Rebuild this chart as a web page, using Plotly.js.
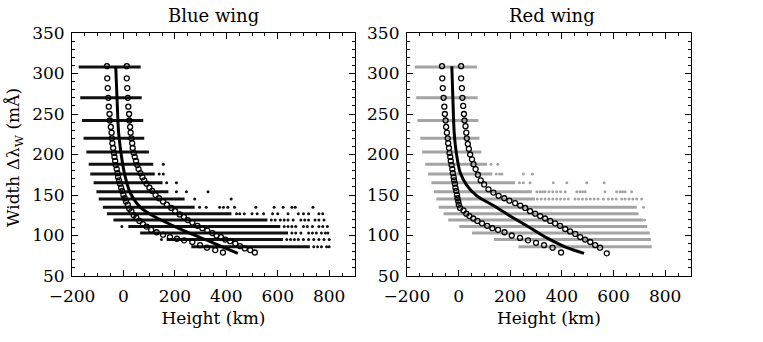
<!DOCTYPE html>
<html>
<head>
<meta charset="utf-8">
<script src="https://cdn.plot.ly/plotly-3.0.1.min.js"></script>
<style>
  html, body { margin: 0; padding: 0; background: #fff; }
  #plot { width: 763px; height: 342px; }
</style>
</head>
<body>
<div id="plot"></div>
<script>
// widths of the rows of points (mA)
var rowWidths = [308, 270, 242, 220, 203, 188, 176, 165, 154, 145, 135, 127, 119, 111, 103, 95, 86];

// blue wing: dense part of each row (km) and the sparse points past it
var blueStart = [-174, -168, -161, -155, -144, -135, -129, -116, -105, -96, -80, -64, -39, 19, 65, 168, 264];
var blueEnd = [67, 71, 77, 81, 99, 116, 122, 152, 175, 238, 277, 420, 560, 610, 640, 620, 725];
var blueSparse = [
  [], [], [], [], [], [155], [139, 155], [168, 206], [206, 245, 329], [277, 419],
  [296, 322, 374, 389, 406, 432, 515, 586, 621, 655, 668, 737],
  [440, 452, 470, 500, 520, 545, 580, 600, 640, 680, 700, 720, 760, 775],
  [575, 590, 610, 625, 640, 660, 690, 705, 720, 745, 760, 780],
  [-6, 625, 640, 655, 670, 700, 715, 735, 760, 775, 793],
  [655, 670, 690, 720, 735, 750, 770, 785, 795],
  [148, 635, 650, 665, 680, 700, 720, 740, 760, 780, 800],
  [740, 755, 770, 790, 800]
];

// red wing rows
var redStart = [-170, -164, -159, -148, -141, -129, -118, -105, -95, -86, -77, -58, -40, 3, 52, 137, 232];
var redEnd = [71, 74, 77, 81, 88, 110, 131, 219, 284, 296, 690, 697, 714, 730, 740, 745, 748];
var redSparse = [
  [], [], [], [], [], [126, 152], [146, 159, 168, 251, 286], [236, 251, 277, 367, 419, 496, 564],
  [303, 315, 325, 335, 350, 365, 380, 395, 413, 458, 470, 480, 490, 567, 612, 625, 635, 645, 670],
  [305, 320, 335, 350, 365, 380, 395, 410, 425, 451, 465, 480, 495, 510, 525, 540, 561, 580, 595, 610, 632, 645, 660, 675, 690, 709],
  [716], [], [720], [], [], [], []
];

// open circles, blue wing
var blueLoW = [309, 294, 282, 270, 259, 250, 242, 234, 227, 220, 214, 208, 202, 197, 192, 187, 182, 177, 172, 168, 164, 159, 155, 150, 146, 142, 138, 133, 130, 125, 122, 118, 114, 111, 107, 104, 101, 98, 96, 94, 92, 88, 85, 82, 79];
var blueLoH = [-64, -63, -61, -59, -57, -54, -53, -49, -46, -45, -43, -40, -37, -35, -32, -30, -26, -23, -21, -17, -13, -9, -5, 0, 5, 10, 17, 23, 31, 40, 50, 62, 76, 90, 108, 129, 154, 181, 208, 236, 268, 298, 325, 357, 387];
var blueHiW = [309, 294, 282, 270, 259, 250, 242, 234, 227, 220, 214, 208, 202, 197, 192, 187, 182, 177, 172, 168, 164, 159, 155, 150, 146, 142, 138, 134, 130, 126, 123, 119, 116, 112, 109, 106, 103, 100, 98, 95, 93, 90, 87, 84, 82, 79];
var blueHiH = [13, 13, 15, 17, 19, 22, 23, 26, 28, 31, 34, 36, 40, 44, 49, 54, 59, 66, 74, 81, 90, 101, 112, 125, 138, 154, 169, 186, 201, 219, 235, 250, 268, 288, 307, 326, 346, 362, 379, 396, 415, 435, 453, 472, 493, 511];
// mean curve, blue wing
var blueMeanW = [309, 270, 228, 203, 178, 153, 135, 124, 112, 101, 91, 78];
var blueMeanH = [-30, -25, -19, -10, 3, 26, 65, 116, 194, 271, 348, 445];

// open circles, red wing
var redLoW = [309, 294, 282, 270, 259, 250, 242, 234, 227, 220, 214, 208, 202, 197, 192, 187, 182, 177, 172, 168, 164, 159, 155, 150, 146, 142, 138, 134, 131, 127, 124, 121, 118, 115, 112, 109, 107, 104, 100, 97, 94, 91, 88, 85, 79];
var redLoH = [-64, -63, -61, -58, -55, -53, -50, -48, -45, -42, -40, -37, -35, -32, -30, -27, -24, -22, -19, -17, -14, -12, -9, -6, -4, -1, 1, 6, 19, 30, 42, 57, 73, 91, 111, 131, 153, 178, 206, 238, 269, 300, 331, 364, 397];
var redHiW = [309, 294, 282, 270, 260, 250, 242, 235, 227, 220, 213, 207, 200, 194, 188, 182, 175, 168, 163, 157, 153, 149, 146, 143, 140, 137, 134, 130, 127, 124, 121, 118, 115, 112, 108, 105, 102, 98, 95, 92, 88, 85, 78];
var redHiH = [10, 10, 13, 15, 18, 21, 23, 27, 30, 32, 36, 40, 45, 52, 58, 66, 75, 86, 99, 116, 135, 155, 177, 197, 219, 239, 258, 277, 297, 316, 335, 355, 374, 393, 413, 432, 452, 471, 490, 510, 529, 548, 574];
// mean curve, red wing
var redMeanW = [309, 270, 228, 203, 178, 162, 149, 137, 124, 112, 97, 85, 78];
var redMeanH = [-26, -22, -17, -9, 6, 32, 71, 135, 200, 264, 342, 419, 486];

var serif = 'DejaVu Serif, serif';

function rowTraces(starts, ends, sparse, color, xa, ya) {
  var lx = [], ly = [], dx = [], dy = [];
  for (var i = 0; i < rowWidths.length; i++) {
    lx.push(starts[i], ends[i], null);
    ly.push(rowWidths[i], rowWidths[i], null);
    for (var j = 0; j < sparse[i].length; j++) {
      dx.push(sparse[i][j]);
      dy.push(rowWidths[i]);
    }
  }
  return [
    { x: lx, y: ly, xaxis: xa, yaxis: ya, mode: 'lines', type: 'scatter',
      line: { color: color, width: 3 }, hoverinfo: 'skip' },
    { x: dx, y: dy, xaxis: xa, yaxis: ya, mode: 'markers', type: 'scatter',
      marker: { color: color, size: 3, symbol: 'circle' }, hoverinfo: 'skip' }
  ];
}

function circles(h, w, xa, ya) {
  return { x: h, y: w, xaxis: xa, yaxis: ya, mode: 'markers', type: 'scatter',
    marker: { symbol: 'circle-open', size: 5, color: '#000', line: { width: 1.3, color: '#000' } } };
}

function mean(h, w, xa, ya) {
  return { x: h, y: w, xaxis: xa, yaxis: ya, mode: 'lines', type: 'scatter',
    line: { color: '#000', width: 3, shape: 'spline', smoothing: 0.8 } };
}

var plot_data = []
  .concat(rowTraces(blueStart, blueEnd, blueSparse, '#111', 'x', 'y'))
  .concat(rowTraces(redStart, redEnd, redSparse, '#a4a4a4', 'x2', 'y2'));
plot_data.push(circles(blueLoH, blueLoW, 'x', 'y'));
plot_data.push(circles(blueHiH, blueHiW, 'x', 'y'));
plot_data.push(mean(blueMeanH, blueMeanW, 'x', 'y'));
plot_data.push(circles(redLoH, redLoW, 'x2', 'y2'));
plot_data.push(circles(redHiH, redHiW, 'x2', 'y2'));
plot_data.push(mean(redMeanH, redMeanW, 'x2', 'y2'));

function xAxis(domain, anchor) {
  return {
    domain: domain, anchor: anchor, range: [-200, 900],
    tick0: -200, dtick: 200, ticks: 'inside', ticklen: 6, tickcolor: '#000',
    minor: { dtick: 50, ticks: 'inside', ticklen: 3, tickcolor: '#000' },
    showline: true, linecolor: '#000', linewidth: 1, mirror: 'ticks',
    showgrid: false, zeroline: false, ticklabelstandoff: 5,
    tickfont: { family: serif, size: 17, color: '#000' },
    title: { text: 'Height (km)', font: { family: serif, size: 17, color: '#000' }, standoff: 6 }
  };
}

function yAxis(anchor) {
  return {
    anchor: anchor, range: [50, 350],
    tick0: 50, dtick: 50, ticks: 'inside', ticklen: 6, tickcolor: '#000',
    minor: { dtick: 10, ticks: 'inside', ticklen: 3, tickcolor: '#000' },
    showline: true, linecolor: '#000', linewidth: 1, mirror: 'ticks',
    showgrid: false, zeroline: false, ticklabelstandoff: 3,
    tickfont: { family: serif, size: 17, color: '#000' }
  };
}

var layout = {
  width: 763, height: 342,
  margin: { l: 72, r: 72, t: 33, b: 66 },
  paper_bgcolor: '#fff', plot_bgcolor: '#fff',
  showlegend: false,
  xaxis: xAxis([0, 0.457], 'y'),
  yaxis: yAxis('x'),
  xaxis2: xAxis([0.541, 1], 'y2'),
  yaxis2: yAxis('x2'),
  annotations: [
    { text: 'Blue wing', xref: 'paper', yref: 'paper', x: 0.228, y: 1.074,
      xanchor: 'center', yanchor: 'middle', showarrow: false,
      font: { family: serif, size: 18, color: '#000' } },
    { text: 'Red wing', xref: 'paper', yref: 'paper', x: 0.775, y: 1.074,
      xanchor: 'center', yanchor: 'middle', showarrow: false,
      font: { family: serif, size: 18, color: '#000' } },
    { text: 'Width Δλ<sub>W</sub> (mÅ)', xref: 'paper', yref: 'paper', x: -0.092, y: 0.486,
      xanchor: 'center', yanchor: 'middle', textangle: -90, showarrow: false,
      font: { family: serif, size: 17, color: '#000' } }
  ]
};

Plotly.newPlot('plot', plot_data, layout, { staticPlot: true });
</script>
</body>
</html>
